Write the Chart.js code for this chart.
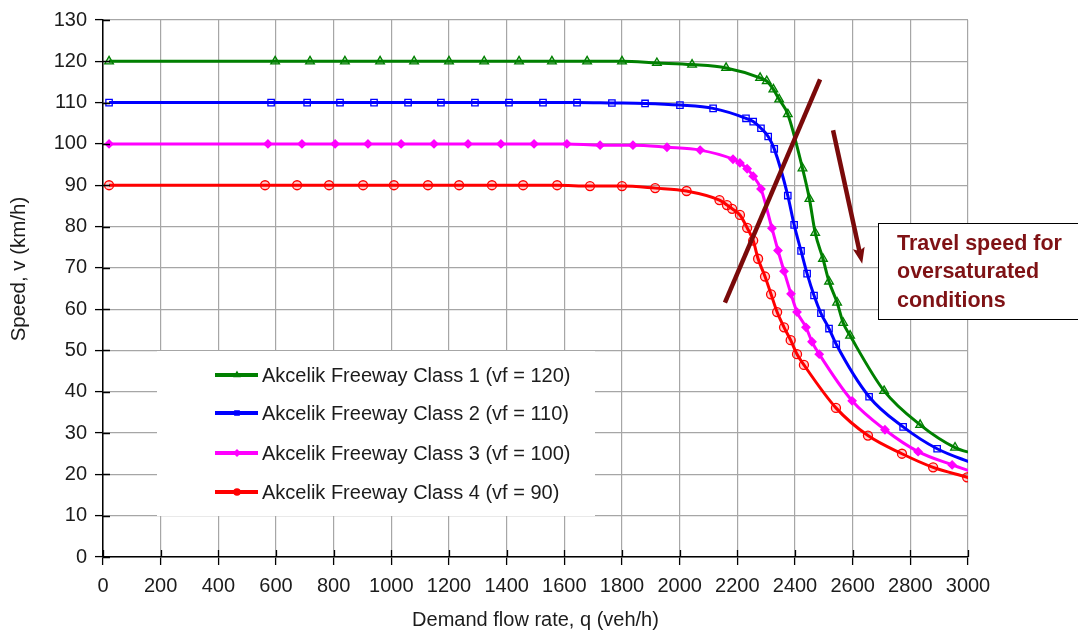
<!DOCTYPE html>
<html><head><meta charset="utf-8">
<script src="https://cdn.jsdelivr.net/npm/chart.js@4.4.1/dist/chart.umd.min.js"></script>
<style>html,body{margin:0;padding:0;background:#fff;overflow:hidden}#wrap{width:1078px;height:634px}</style>
</head><body><div id="wrap"><canvas id="c" width="1078" height="634"></canvas></div>
<script>
const seriesLabels = [
  'Akcelik Freeway Class 1 (vf = 120)',
  'Akcelik Freeway Class 2 (vf = 110)',
  'Akcelik Freeway Class 3 (vf = 100)',
  'Akcelik Freeway Class 4 (vf = 90)'
];
const class1Flow  = [21,597,718,839,961,1079,1200,1322,1443,1557,1679,1800,1921,2043,2161,2279,2302,2325,2345,2375,2426,2450,2470,2497,2518,2546,2567,2591,2709,2834,2955,3020];
const class1Speed = [120,120,120,120,120,120,120,120,120,120,120,120,119.6,119.2,118.4,116.0,115.2,113.2,110.8,107.2,94.1,86.7,78.5,72.2,66.7,61.6,56.7,53.6,40.2,32.0,26.5,25.0];
const class2Flow  = [21,583,708,822,940,1058,1172,1290,1408,1526,1644,1765,1880,2001,2116,2230,2255,2282,2307,2328,2375,2397,2421,2442,2466,2490,2518,2543,2657,2775,2893,3020];
const class2Speed = [110,110,110,110,110,110,110,110,110,110,110,109.9,109.8,109.4,108.6,106.2,105.4,103.8,101.8,98.8,87.5,80.4,74.1,68.6,63.3,59.0,55.3,51.5,38.8,31.5,26.2,22.6];
const class3Flow  = [21,572,690,805,919,1034,1148,1266,1380,1495,1609,1724,1838,1956,2071,2185,2209,2234,2255,2282,2320,2341,2362,2386,2407,2438,2459,2484,2598,2712,2827,2945,3020];
const class3Speed = [100,100,100,100,100,100,100,100,100,100,100,99.7,99.7,99.2,98.5,96.3,95.4,94.0,92.2,89.1,79.6,74.2,69.2,63.7,59.3,55.6,52.1,49.1,37.8,30.8,25.5,22.3,20.5];
const class4Flow  = [21,562,673,784,902,1009,1127,1235,1349,1457,1575,1689,1800,1915,2024,2138,2164,2182,2209,2234,2255,2272,2296,2317,2338,2362,2385,2407,2431,2542,2653,2771,2879,2997,3020];
const class4Speed = [90,90,90,90,90,90,90,90,90,90,90,89.8,89.8,89.3,88.6,86.4,85.2,84.3,82.8,79.7,76.6,72.2,67.9,63.6,59.3,55.6,52.5,49.1,46.5,36.1,29.4,25.0,21.7,19.3,18.8];
const xTickValues = [0,200,400,600,800,1000,1200,1400,1600,1800,2000,2200,2400,2600,2800,3000];
const yTickValues = [0,10,20,30,40,50,60,70,80,90,100,110,120,130];
const xTitle = 'Demand flow rate, q (veh/h)';
const yTitle = 'Speed, v (km/h)';
const noteLines = ['Travel speed for', 'oversaturated', 'conditions'];

const pts = (xs, ys) => xs.map((x, i) => ({x, y: ys[i]}));
const FONT = '"Liberation Sans", Arial, sans-serif';
const TEXT = '#1c1c1c';

const styles = [
  {color:'#008000', style:'triangle', bg:'rgba(0,128,0,0.22)', r:5},
  {color:'#0000ff', style:'rect', bg:'rgba(255,255,255,0)', r:4.5},
  {color:'#ff00ff', style:'rectRot', bg:'#ff00ff', r:4},
  {color:'#ff0000', style:'circle', bg:'rgba(255,0,0,0.18)', r:4.5}
];
const dataSets = [[class1Flow,class1Speed],[class2Flow,class2Speed],[class3Flow,class3Speed],[class4Flow,class4Speed]];

const overlay = {
  id: 'overlay',
  afterDatasetsDraw(chart) {
    const ctx = chart.ctx, xs = chart.scales.x, ys = chart.scales.y;
    const P = (q, v) => [xs.getPixelForValue(q), ys.getPixelForValue(v)];
    const ca = chart.chartArea;
    ctx.save();
    // inner tick stubs (ticks cross the axes)
    ctx.strokeStyle = '#000'; ctx.lineWidth = 1.3;
    ctx.beginPath();
    yTickValues.forEach(v => { const y = Math.round(ys.getPixelForValue(v)) + 0.5; ctx.moveTo(ca.left, y); ctx.lineTo(ca.left + 7, y); });
    xTickValues.forEach(v => { const x = Math.round(xs.getPixelForValue(v)) + 0.5; ctx.moveTo(x, ca.bottom); ctx.lineTo(x, ca.bottom - 7); });
    ctx.stroke();
    // legend box
    ctx.fillStyle = '#fff';
    ctx.fillRect(157, 351, 438, 165);
    const rows = [375, 413, 453, 492];
    chart.data.datasets.forEach((ds, i) => {
      const y = rows[i];
      ctx.strokeStyle = ds.borderColor; ctx.lineWidth = 4; ctx.lineCap = 'butt';
      ctx.beginPath(); ctx.moveTo(215, y); ctx.lineTo(258, y); ctx.stroke();
      ctx.fillStyle = ds.borderColor; ctx.strokeStyle = ds.borderColor; ctx.lineWidth = 1.5;
      Chart.helpers.drawPoint(ctx, {pointStyle: ds.pointStyle, radius: 3, borderWidth: 1.5, rotation: 0}, 237, y);
      ctx.fillStyle = TEXT;
      ctx.font = '20px ' + FONT;
      ctx.textBaseline = 'middle'; ctx.textAlign = 'left';
      ctx.fillText(ds.label, 262, y + 1);
    });
    // annotation lines (data units)
    ctx.strokeStyle = '#7a0a0a'; ctx.fillStyle = '#7a0a0a';
    ctx.lineWidth = 4.5; ctx.lineCap = 'butt';
    let a = P(2157, 61.6), b = P(2487, 115.6);
    ctx.beginPath(); ctx.moveTo(a[0], a[1]); ctx.lineTo(b[0], b[1]); ctx.stroke();
    a = P(2532, 103.3); b = P(2633, 71.0);
    const ang = Math.atan2(b[1] - a[1], b[0] - a[0]);
    const hl = 13, hw = 6;
    const bx = b[0] - hl * Math.cos(ang), by = b[1] - hl * Math.sin(ang);
    ctx.beginPath(); ctx.moveTo(a[0], a[1]); ctx.lineTo(bx, by); ctx.stroke();
    ctx.beginPath();
    ctx.moveTo(b[0], b[1]);
    ctx.lineTo(bx + hw * Math.sin(ang) - 3*Math.cos(ang), by - hw * Math.cos(ang) - 3*Math.sin(ang));
    ctx.lineTo(bx, by);
    ctx.lineTo(bx - hw * Math.sin(ang) - 3*Math.cos(ang), by + hw * Math.cos(ang) - 3*Math.sin(ang));
    ctx.closePath(); ctx.fill();
    // note box
    ctx.fillStyle = '#fff';
    ctx.fillRect(878, 223, 200, 97);
    ctx.strokeStyle = '#000'; ctx.lineWidth = 1;
    ctx.strokeRect(878.5, 223.5, 205, 96);
    ctx.fillStyle = '#7f1215';
    ctx.font = 'bold 21.5px ' + FONT;
    ctx.textBaseline = 'middle';
    noteLines.forEach((t, i) => ctx.fillText(t, 897, 244 + i * 28.5));
    // y axis title
    ctx.save();
    ctx.translate(19, 269);
    ctx.rotate(-Math.PI / 2);
    ctx.fillStyle = TEXT;
    ctx.font = '20.5px ' + FONT;
    ctx.textAlign = 'center'; ctx.textBaseline = 'middle';
    ctx.fillText(yTitle, 0, 0);
    ctx.restore();
    ctx.restore();
  }
};

new Chart(document.getElementById('c'), {
  type: 'line',
  data: {
    datasets: dataSets.map((d, i) => ({
      label: seriesLabels[i],
      data: pts(d[0], d[1]),
      borderColor: styles[i].color,
      backgroundColor: styles[i].color,
      borderWidth: 3,
      pointStyle: styles[i].style,
      pointRadius: styles[i].r,
      pointBackgroundColor: styles[i].bg,
      pointBorderColor: styles[i].color,
      pointBorderWidth: 1.3,
      cubicInterpolationMode: 'monotone',
      fill: false
    }))
  },
  options: {
    responsive: false,
    animation: false,
    devicePixelRatio: 1,
    layout: {padding: {top: 17, right: 110, left: 0, bottom: 0}},
    plugins: {legend: {display: false}, tooltip: {enabled: false}},
    scales: {
      x: {
        type: 'linear', min: 0, max: 3000,
        afterBuildTicks: s => { s.ticks = xTickValues.map(v => ({value: v})); },
        afterFit: s => { s.height = 77; },
        grid: {color: '#a6a6a6', lineWidth: 1.2, tickColor: '#000', tickLength: 8, tickWidth: 1.3},
        border: {color: '#000', width: 1.5},
        ticks: {color: TEXT, font: {family: FONT, size: 20}, padding: 9, maxRotation: 0, autoSkip: false,
                callback: v => String(v)},
        title: {display: true, text: xTitle, color: TEXT, font: {family: FONT, size: 20}, padding: {top: 0, bottom: 2}}
      },
      y: {
        type: 'linear', min: 0, max: 130,
        afterBuildTicks: s => { s.ticks = yTickValues.map(v => ({value: v})); },
        afterFit: s => { s.width = 103; },
        grid: {color: '#a6a6a6', lineWidth: 1.2, tickColor: '#000', tickLength: 8, tickWidth: 1.3},
        border: {color: '#000', width: 1.5},
        ticks: {color: TEXT, font: {family: FONT, size: 20}, padding: 8, autoSkip: false, callback: v => String(v)},
        title: {display: false}
      }
    }
  },
  plugins: [overlay]
});
</script></body></html>
